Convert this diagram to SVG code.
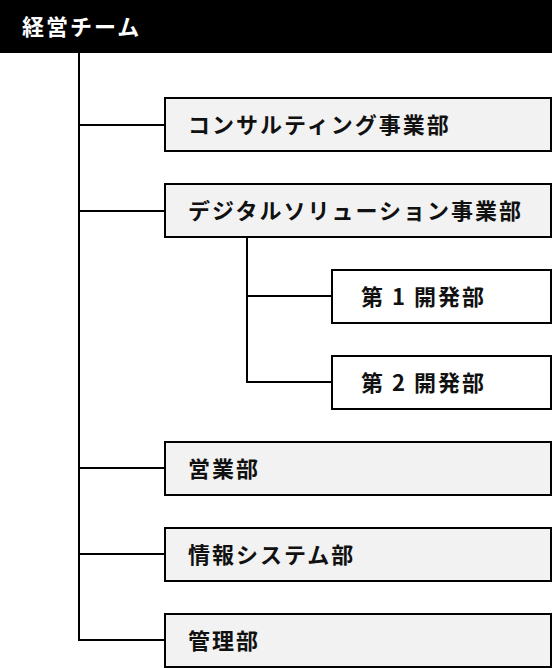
<svg xmlns="http://www.w3.org/2000/svg" width="552" height="668" viewBox="0 0 552 668">
<style>
.box{fill:#f2f2f2;stroke:#000;stroke-width:2}
.sub{fill:#fff;stroke:#000;stroke-width:2}
.lbl{font-family:"Noto Sans CJK JP","Noto Sans",sans-serif;font-weight:bold;font-size:22px;letter-spacing:2px;fill:#111}
.ln{stroke:#000;stroke-width:2;fill:none}
</style>
<rect x="0" y="0" width="552" height="53" fill="#000"/>
<g id="root"><text x="22" y="35" class="lbl" style="fill:#fff">経営チーム</text></g>
<g id="connectors">
<path class="ln" d="M79 53V640H165"/>
<path class="ln" d="M79 125H165M79 211H165M79 468H165M79 554H165"/>
<path class="ln" d="M247 237V382H332M247 296H332"/>
</g>
<g id="consulting"><rect class="box" x="165" y="98" width="386" height="53"/><text class="lbl" x="188" y="133">コンサルティング事業部</text></g>
<g id="digital"><rect class="box" x="165" y="184" width="386" height="53"/><text class="lbl" x="188" y="219">デジタルソリューション事業部</text></g>
<g id="dev1"><rect class="sub" x="332" y="270" width="219" height="53"/><text class="lbl" x="361" y="305">第 1 開発部</text></g>
<g id="dev2"><rect class="sub" x="332" y="356" width="219" height="53"/><text class="lbl" x="361" y="391">第 2 開発部</text></g>
<g id="sales"><rect class="box" x="165" y="442" width="386" height="53"/><text class="lbl" x="188" y="477">営業部</text></g>
<g id="infosys"><rect class="box" x="165" y="528" width="386" height="53"/><text class="lbl" x="188" y="563">情報システム部</text></g>
<g id="admin"><rect class="box" x="165" y="614" width="386" height="53"/><text class="lbl" x="188" y="649">管理部</text></g>
</svg>
